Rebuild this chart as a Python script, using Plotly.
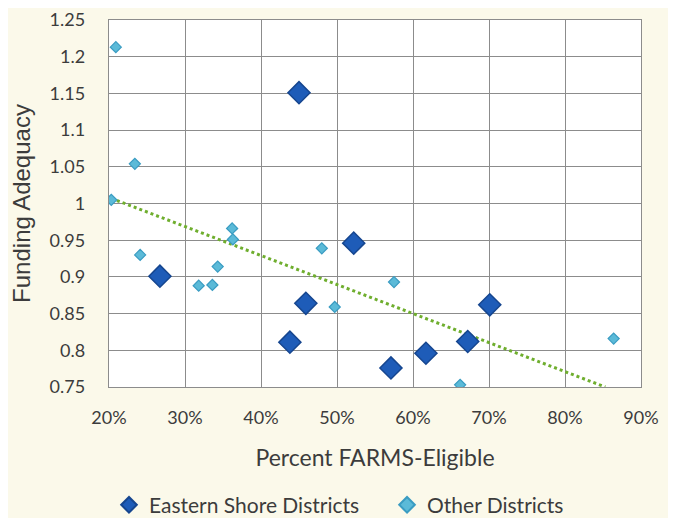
import plotly.graph_objects as go

# Eastern Shore Districts (percent FARMS-eligible as fraction, funding adequacy)
eastern_x = [0.450, 0.267, 0.459, 0.522, 0.438, 0.571, 0.617, 0.672, 0.701]
eastern_y = [1.151, 0.901, 0.864, 0.946, 0.811, 0.776, 0.796, 0.812, 0.862]

# Other Districts
other_x = [0.209, 0.234, 0.203, 0.362, 0.363, 0.480, 0.241, 0.343, 0.318, 0.336, 0.497, 0.575, 0.662, 0.864]
other_y = [1.213, 1.054, 1.005, 0.966, 0.951, 0.939, 0.930, 0.914, 0.888, 0.889, 0.859, 0.893, 0.753, 0.816]

# Trendline endpoints
trend_x = [0.203, 0.853]
trend_y = [1.007, 0.750]

x_ticks = [0.2, 0.3, 0.4, 0.5, 0.6, 0.7, 0.8, 0.9]
y_ticks = [0.75, 0.8, 0.85, 0.9, 0.95, 1.0, 1.05, 1.1, 1.15, 1.2, 1.25]
y_ticklabels = ["0.75", "0.8", "0.85", "0.9", "0.95", "1", "1.05", "1.1", "1.15", "1.2", "1.25"]

FONT = "Lato, 'Open Sans', sans-serif"
TXT = "#3C3C3C"

fig = go.Figure()
fig.add_trace(go.Scatter(
    x=trend_x, y=trend_y, mode="lines",
    line=dict(color="#6FAE2E", width=3, dash="dot"),
    showlegend=False, hoverinfo="skip"))
fig.add_trace(go.Scatter(
    x=eastern_x, y=eastern_y, mode="markers", name="Eastern Shore Districts",
    legend="legend",
    marker=dict(symbol="diamond", size=17, color="#1E5CB8",
                line=dict(color="#16468F", width=1.5))))
fig.add_trace(go.Scatter(
    x=other_x, y=other_y, mode="markers", name="Other Districts",
    legend="legend2",
    marker=dict(symbol="diamond", size=8.5, color="#5BBAD8",
                line=dict(color="#3A9CC2", width=1.2))))

legend_common = dict(orientation="h", xanchor="left", y=-0.322, yanchor="middle",
                     font=dict(size=21, color=TXT), itemsizing="constant",
                     bgcolor="rgba(0,0,0,0)", itemwidth=30)

fig.update_layout(
    width=676, height=518,
    margin=dict(l=101, r=43, t=12, b=139, autoexpand=False),
    paper_bgcolor="#FBF9EA",
    plot_bgcolor="#FFFFFF",
    font=dict(family=FONT, size=18, color=TXT),
    showlegend=True,
    legend=dict(x=0.0, **legend_common),
    legend2=dict(x=0.5226, **legend_common),
)
fig.update_xaxes(
    range=[0.2, 0.9], tickvals=x_ticks, tickformat=".0%",
    showgrid=True, gridcolor="#8C8C8C", gridwidth=1.4,
    showline=True, linecolor="#8C8C8C", linewidth=1.4, mirror=True,
    zeroline=False, ticks="", ticklabelstandoff=14, automargin=False,
    ticklabeloverflow="allow",
    tickfont=dict(size=18, color=TXT),
    title=dict(text="Percent FARMS-Eligible", font=dict(size=23, color=TXT), standoff=23),
)
fig.update_yaxes(
    range=[0.75, 1.25], tickvals=y_ticks, ticktext=y_ticklabels,
    showgrid=True, gridcolor="#8C8C8C", gridwidth=1.4,
    showline=True, linecolor="#8C8C8C", linewidth=1.4, mirror=True,
    zeroline=False, ticks="", ticklabelstandoff=19, automargin=False,
    ticklabeloverflow="allow",
    tickfont=dict(size=18, color=TXT),
    title=dict(text="Funding Adequacy", font=dict(family="Liberation Sans, Arial, sans-serif", size=24, color=TXT), standoff=14),
)

fig.write_html("out.html")
